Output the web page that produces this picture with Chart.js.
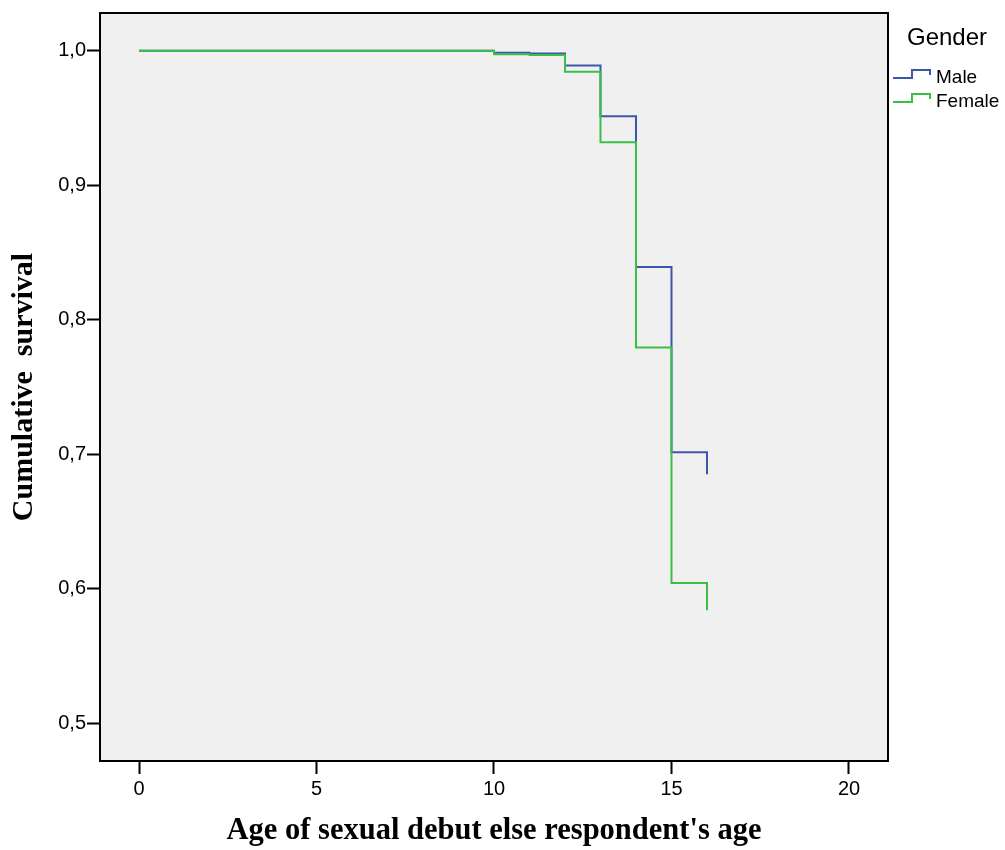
<!DOCTYPE html>
<html>
<head>
<meta charset="utf-8">
<script src="https://cdn.jsdelivr.net/npm/chart.js@4.4.1/dist/chart.umd.min.js"></script>
<style>
  html, body { margin: 0; padding: 0; background: #ffffff; }
  #wrap { width: 1005px; height: 850px; }
</style>
</head>
<body>
<div id="wrap"><canvas id="c" width="1005" height="850"></canvas></div>
<script>
// ---- data ----
const ages = [0, 10, 11, 12, 13, 14, 15, 16];
const maleSurvival = [1.0, 0.9985, 0.998, 0.989, 0.9514, 0.8393, 0.7014, 0.6851];
const femaleSurvival = [1.0, 0.9975, 0.9968, 0.9845, 0.932, 0.7794, 0.6043, 0.584];
const xTicks = [0, 5, 10, 15, 20];
const yTicks = [0.5, 0.6, 0.7, 0.8, 0.9, 1.0];
const seriesNames = ['Male', 'Female'];
const legendTitle = 'Gender';
const xTitle = "Age of sexual debut else respondent's age";
const yTitle = 'Cumulative  survival';

const maleColor = '#3c56ad';
const femaleColor = '#3cbf47';

const toPts = (xs, ys) => xs.map((x, i) => ({ x: x, y: ys[i] }));

const framePlugin = {
  id: 'frame',
  beforeDatasetsDraw(chart) {
    const a = chart.chartArea, ctx = chart.ctx;
    ctx.save();
    ctx.fillStyle = '#f0f0f0';
    ctx.fillRect(a.left, a.top, a.right - a.left, a.bottom - a.top);
    ctx.restore();
  },
  afterDatasetsDraw(chart) {
    const a = chart.chartArea, ctx = chart.ctx;
    ctx.save();
    ctx.strokeStyle = '#000';
    ctx.lineWidth = 2;
    ctx.strokeRect(a.left, a.top, a.right - a.left, a.bottom - a.top);
    ctx.restore();
  },
  afterDraw(chart) {
    const ctx = chart.ctx;
    ctx.save();
    ctx.fillStyle = '#000';
    ctx.textBaseline = 'alphabetic';
    ctx.textAlign = 'left';
    ctx.font = '24px "Liberation Sans", Arial, sans-serif';
    ctx.fillText(legendTitle, 907, 45);
    const items = [
      { name: seriesNames[0], color: maleColor, y: 78 },
      { name: seriesNames[1], color: femaleColor, y: 102 }
    ];
    items.forEach(it => {
      ctx.strokeStyle = it.color;
      ctx.lineWidth = 2;
      ctx.beginPath();
      ctx.moveTo(893, it.y);
      ctx.lineTo(912, it.y);
      ctx.lineTo(912, it.y - 8);
      ctx.lineTo(930, it.y - 8);
      ctx.lineTo(930, it.y - 3);
      ctx.stroke();
      ctx.fillStyle = '#000';
      ctx.font = '19px "Liberation Sans", Arial, sans-serif';
      ctx.fillText(it.name, 936, it.y + 5);
    });
    ctx.restore();
  }
};

new Chart(document.getElementById('c'), {
  type: 'line',
  data: {
    datasets: [
      {
        label: seriesNames[0],
        data: toPts(ages, maleSurvival),
        borderColor: maleColor,
        borderWidth: 2,
        stepped: 'before',
        pointRadius: 0,
        fill: false,
        order: 2
      },
      {
        label: seriesNames[1],
        data: toPts(ages, femaleSurvival),
        borderColor: femaleColor,
        borderWidth: 2,
        stepped: 'before',
        pointRadius: 0,
        fill: false,
        order: 1
      }
    ]
  },
  options: {
    responsive: false,
    animation: false,
    layout: { padding: { left: 0, right: 117, top: 9, bottom: 0 } },
    plugins: { legend: { display: false }, tooltip: { enabled: false } },
    scales: {
      x: {
        type: 'linear',
        min: -1.0986,
        max: 21.0986,
        afterBuildTicks(scale) { scale.ticks = xTicks.map(v => ({ value: v })); },
        afterFit(scale) { scale.height = 89; },
        grid: { drawOnChartArea: false, drawTicks: true, tickLength: 13, tickColor: '#000', tickWidth: 2 },
        border: { display: false },
        ticks: {
          color: '#000',
          padding: 3,
          maxRotation: 0,
          font: { family: '"Liberation Sans", Arial, sans-serif', size: 20 },
          callback: v => String(v)
        },
        title: {
          display: true,
          text: xTitle,
          color: '#000',
          padding: { top: 0, bottom: 1 },
          font: { family: '"Liberation Serif", "Times New Roman", serif', size: 30.5, weight: 'bold' }
        }
      },
      y: {
        type: 'linear',
        min: 0.4719,
        max: 1.0281,
        afterBuildTicks(scale) { scale.ticks = yTicks.map(v => ({ value: v })); },
        afterFit(scale) { scale.width = 100; },
        grid: { drawOnChartArea: false, drawTicks: true, tickLength: 13, tickColor: '#000', tickWidth: 2 },
        border: { display: false },
        ticks: {
          color: '#000',
          padding: 1,
          font: { family: '"Liberation Sans", Arial, sans-serif', size: 20 },
          callback: v => Number(v).toFixed(1).replace('.', ',')
        },
        title: {
          display: true,
          text: yTitle,
          color: '#000',
          padding: { top: 6, bottom: 0 },
          font: { family: '"Liberation Serif", "Times New Roman", serif', size: 30, weight: 'bold' }
        }
      }
    }
  },
  plugins: [framePlugin]
});
</script>
</body>
</html>
